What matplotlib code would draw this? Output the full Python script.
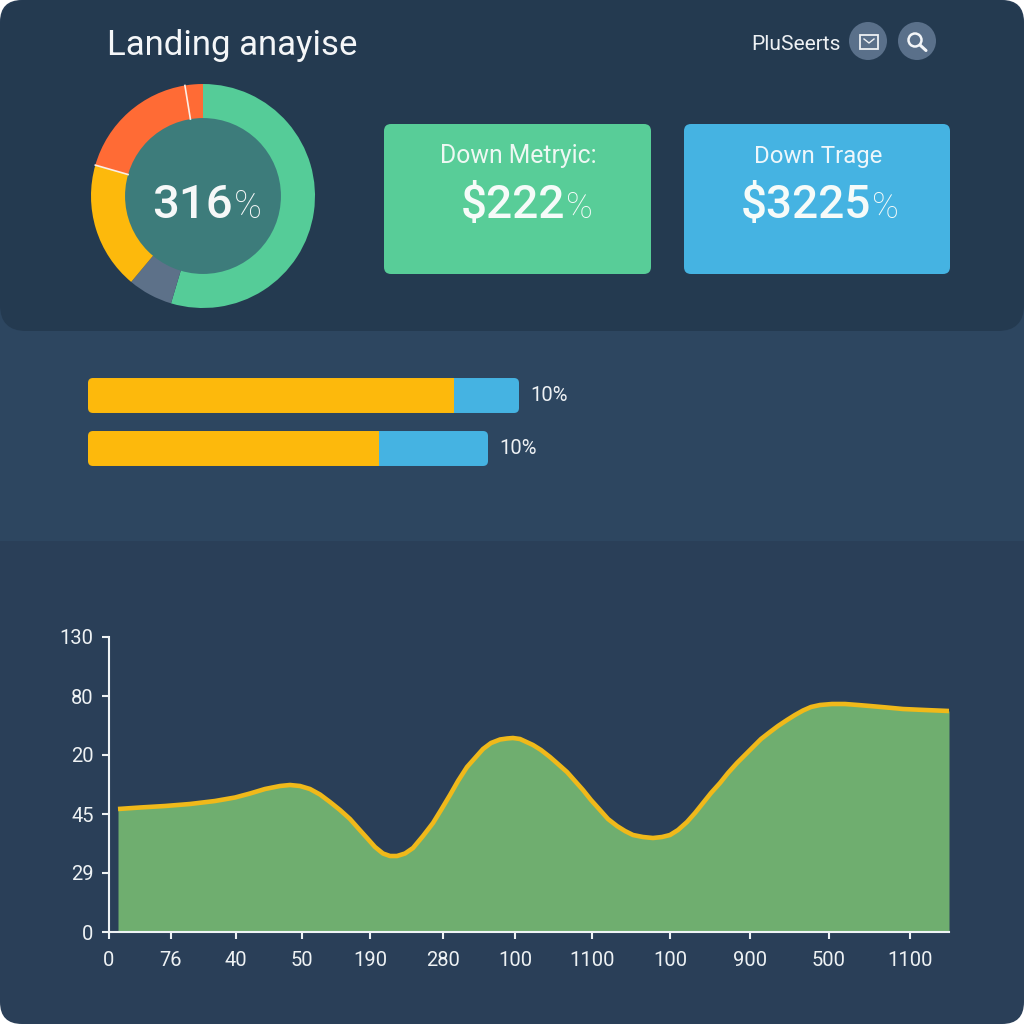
import numpy as np
import matplotlib
matplotlib.use('Agg')
import matplotlib.pyplot as plt
from matplotlib.patches import FancyBboxPatch, Circle, Rectangle

plt.rcParams['font.family'] = ['Roboto', 'DejaVu Sans']

# donut, degrees clockwise from the top
donut_values = [196.6, 23.3, 66.1, 64.7, 9.3]
donut_colors = ['#55cc98', '#5d7189', '#fdb90c', '#ff6b35', '#ff6b35']
donut_center_label = '316'

# stacked bars
bar_yellow = [366, 291]
bar_blue = [65, 109]
bar_labels = ['10%', '10%']

# area chart
curve_x = [9, 31, 56, 81, 106, 126, 141, 156, 171, 181, 191, 201, 211, 221, 231, 241,
           249, 258, 266, 274, 281, 288, 296, 304, 314, 324, 332, 341, 349, 358, 366,
           374, 382, 391, 398, 404, 411, 424, 432, 441, 449, 458, 466, 474, 482, 491,
           499, 508, 516, 524, 534, 544, 553, 561, 569, 578, 586, 594, 602, 611, 619,
           628, 636, 644, 652, 661, 669, 678, 686, 694, 702, 711, 723, 736, 749, 761,
           778, 794, 816, 840]
curve_y = [123, 124.5, 126, 128, 131, 134.5, 138.5, 143, 146, 147, 146, 143, 137.5, 130, 122, 113,
           104, 94, 85, 78.5, 76, 76, 78.5, 84, 96, 109, 122, 137, 151, 165, 174,
           183, 189, 192.5, 193.5, 194, 193, 187, 182, 175, 168, 160, 151, 142, 132, 122,
           113, 106, 101, 97, 95, 94, 95, 97, 102, 110, 119, 129, 139, 149, 159,
           169, 177, 185, 193, 200, 206, 212, 217, 221.5, 225, 227, 228, 228, 227, 226,
           224.5, 223, 222, 221]
xtick_pos = [0, 62, 127, 193, 261, 334, 406, 483, 561, 641, 720, 801]
xtick_labels = ['0', '76', '40', '50', '190', '280', '100', '1100', '100', '900', '500', '1100']
ytick_pos = [0, 59, 118, 177, 236, 295]
ytick_labels = ['0', '29', '45', '20', '80', '130']


def px_axes(fig, left, top, right, bottom):
    return fig.add_axes([left / 1024, 1 - bottom / 1024, (right - left) / 1024, (bottom - top) / 1024])


fig = plt.figure(figsize=(10.24, 10.24), dpi=100, facecolor='white')

# background in pixel coordinates
bg = fig.add_axes([0, 0, 1, 1])
bg.set_xlim(0, 1024)
bg.set_ylim(1024, 0)
bg.axis('off')
bg.add_patch(FancyBboxPatch((0, 0), 1024, 1024, boxstyle='round,pad=0,rounding_size=22', fc='#2a3f58', ec='none'))
bg.add_patch(Rectangle((0, 300), 1024, 241, fc='#2d4660', ec='none'))
bg.add_patch(FancyBboxPatch((0, 0), 1024, 331, boxstyle='round,pad=0,rounding_size=26', fc='#243a50', ec='none'))

bg.text(107, 55, 'Landing anayise', color='#f4f6f8', fontsize=25, va='baseline', ha='left')
bg.text(841, 50, 'PluSeerts', color='#eef1f4', fontsize=15, va='baseline', ha='right')

# header icons
bg.add_patch(Circle((868, 41), 19, fc='#5a708a', ec='none'))
bg.add_patch(Circle((917, 41), 19, fc='#5a708a', ec='none'))
bg.add_patch(Rectangle((860, 35), 18, 14, fc='none', ec='#eef1f4', lw=1.3))
bg.plot([864, 869, 874], [39, 43, 39], color='#eef1f4', lw=1)
bg.add_patch(Circle((915, 40), 6.5, fc='none', ec='#f4f6f8', lw=1.8))
bg.plot([920, 926], [45, 50.5], color='#f4f6f8', lw=2.2, solid_capstyle='round')

# cards
bg.add_patch(FancyBboxPatch((384, 124), 267, 150, boxstyle='round,pad=0,rounding_size=7', fc='#58cd98', ec='none'))
bg.add_patch(FancyBboxPatch((684, 124), 266, 150, boxstyle='round,pad=0,rounding_size=7', fc='#45b3e2', ec='none'))
bg.text(518, 163, 'Down Metryic:', color='#eef8f3', fontsize=17.8, ha='center', va='baseline')
bg.text(818, 163, 'Down Trage', color='#eef7fb', fontsize=17.3, ha='center', va='baseline')
bg.text(565, 218, '$222', color='#f6fbf9', fontsize=33, ha='right', va='baseline', fontweight='medium')
bg.text(566, 218, '%', color='#f6fbf9', fontsize=26, ha='left', va='baseline', fontweight='light')
bg.text(871, 218, '$3225', color='#f6fbf9', fontsize=33, ha='right', va='baseline', fontweight='medium')
bg.text(872, 218, '%', color='#f6fbf9', fontsize=26, ha='left', va='baseline', fontweight='light')

# donut
ax_d = px_axes(fig, 91, 84, 315, 308)
ax_d.pie(donut_values, colors=donut_colors, startangle=90, counterclock=False, radius=1,
         wedgeprops={'width': 0.4, 'linewidth': 0})
ax_d.set_xlim(-1, 1)
ax_d.set_ylim(-1, 1)
ax_d.add_patch(Circle((0, 0), 0.696, fc='#3d7c7b', ec='none'))
edges = np.cumsum(donut_values)
for ang in edges[2:4]:
    a = np.deg2rad(ang)
    ax_d.plot([0.696 * np.sin(a), np.sin(a)], [0.696 * np.cos(a), np.cos(a)], color='#fbeee6', lw=1.2)
# the donut axes sits above bg, so the centre text goes on a top layer
top = fig.add_axes([0, 0, 1, 1])
top.set_xlim(0, 1024)
top.set_ylim(1024, 0)
top.axis('off')
top.text(233, 218, donut_center_label, color='#f6f8f8', fontsize=34, ha='right', va='baseline', fontweight='medium')
top.text(234, 218, '%', color='#f6f8f8', fontsize=27, ha='left', va='baseline', fontweight='light')

# bars
ax_b = px_axes(fig, 88, 369, 600, 475)
rows = np.arange(len(bar_yellow))
ax_b.set_xlim(0, 512)
ax_b.set_ylim(1.5, -0.5)
ax_b.axis('off')
for i in rows:
    clip = FancyBboxPatch((0, i - 0.33), bar_yellow[i] + bar_blue[i], 0.66, boxstyle='round,pad=0,rounding_size=5',
                          mutation_aspect=1 / 53, fc='none', ec='none', transform=ax_b.transData)
    ax_b.add_patch(clip)
    y_bar = ax_b.barh(i, bar_yellow[i], height=0.66, color='#fdb90c')[0]
    b_bar = ax_b.barh(i, bar_blue[i], left=bar_yellow[i], height=0.66, color='#45b3e2')[0]
    y_bar.set_clip_path(clip)
    b_bar.set_clip_path(clip)
    ax_b.text(bar_yellow[i] + bar_blue[i] + 11, i, bar_labels[i], color='#eef1f4', fontsize=14.5, va='center', ha='left')

# area chart
ax = px_axes(fig, 109, 637, 949, 932)
ax.patch.set_alpha(0)
ax.fill_between(curve_x, curve_y, 0, color='#6fae6f', lw=0, zorder=1)
ax.plot(curve_x, curve_y, color='#f0b91a', lw=3.3, solid_capstyle='butt', solid_joinstyle='round', zorder=2)
ax.set_xlim(0, 840)
ax.set_ylim(0, 295)
ax.spines['top'].set_visible(False)
ax.spines['right'].set_visible(False)
for s in ['left', 'bottom']:
    ax.spines[s].set_color('#eef2f4')
    ax.spines[s].set_linewidth(1.5)
    ax.spines[s].set_zorder(3)
ax.set_xticks(xtick_pos)
ax.set_xticklabels(xtick_labels)
ax.set_yticks(ytick_pos)
ax.set_yticklabels(ytick_labels)
ax.tick_params(axis='both', colors='#eef2f4', labelsize=14.5, length=5, width=1.5)
ax.tick_params(axis='x', pad=9)
ax.tick_params(axis='y', pad=6)

fig.savefig('out.png', dpi=100, facecolor=fig.get_facecolor())
